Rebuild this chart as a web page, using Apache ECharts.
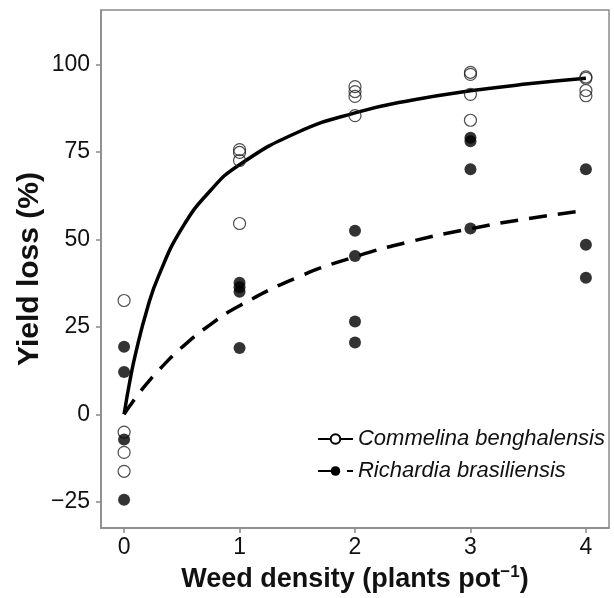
<!DOCTYPE html>
<html><head><meta charset="utf-8">
<script src="https://cdn.jsdelivr.net/npm/echarts@6/dist/echarts.min.js"></script>
<style>html,body{margin:0;padding:0;background:#fff}#c{width:614px;height:598px}</style>
</head><body><div id="c"></div>
<script>
// Observed points: [weed density, yield loss %]
const commelinaPoints = [
  [0, 32.5], [0, -5.1], [0, -10.9], [0, -16.3],
  [1, 75.6], [1, 74.8], [1, 72.5], [1, 54.5],
  [2, 93.6], [2, 92.2], [2, 90.8], [2, 85.3],
  [3, 97.7], [3, 97.1], [3, 91.4], [3, 84.0],
  [4, 96.4], [4, 96.0], [4, 92.5], [4, 91.0]
];
const richardiaPoints = [
  [0, 19.3], [0, 12.1], [0, -7.2], [0, -24.4],
  [1, 37.6], [1, 36.3], [1, 35.0], [1, 18.9],
  [2, 52.4], [2, 45.2], [2, 26.5], [2, 20.5],
  [3, 79.0], [3, 78.0], [3, 70.0], [3, 53.1],
  [4, 70.0], [4, 48.4], [4, 39.0]
];
// Fitted curves
const curveX = [0, 0.05, 0.1, 0.2, 0.3, 0.5, 0.75, 1, 1.5, 2, 2.5, 3, 3.5, 4];
const commelinaCurve = [0, 9.5, 17.4, 30.1, 39.6, 53.1, 64.0, 71.3, 80.5, 86.1, 89.8, 92.4, 94.4, 96.0];
const richardiaCurve = [0, 2.4, 4.7, 8.9, 12.6, 19.1, 25.7, 31.0, 39.1, 45.0, 49.5, 53.0, 55.9, 58.2];
const xTicks = [0, 1, 2, 3, 4];
const yTicks = [-25, 0, 25, 50, 75, 100];
const seriesNames = ['Commelina benghalensis', 'Richardia brasiliensis'];

const zip = (xs, ys) => xs.map((x, i) => [x, ys[i]]);
const fmt = v => (v < 0 ? '\u2212' + Math.abs(v) : String(v));
const chart = echarts.init(document.getElementById('c'), null, {renderer: 'canvas'});
const axisCol = '#8a8a8a';
const txtCol = '#111';
const font = 'Liberation Sans';
chart.setOption({
  animation: false,
  grid: {left: 101, right: 5, top: 10, bottom: 70, outerBoundsMode: 'none', containLabel: false,
         show: true, borderColor: axisCol, borderWidth: 1.5, backgroundColor: 'transparent'},
  xAxis: {
    type: 'value', min: -0.2, max: 4.2,
    name: 'Weed density (plants pot{sup|−1})', nameLocation: 'middle', nameGap: 35,
    nameTextStyle: {fontFamily: font, fontSize: 27, fontWeight: 'bold', color: txtCol,
      rich: {sup: {fontFamily: font, fontSize: 17, fontWeight: 'bold', color: txtCol, verticalAlign: 'top', padding: [0, 0, 15, 0]}}},
    splitLine: {show: false},
    axisLine: {show: true, onZero: false, lineStyle: {color: axisCol, width: 1.5}},
    axisTick: {show: true, length: 5, lineStyle: {color: axisCol, width: 1.5}, customValues: xTicks},
    axisLabel: {customValues: xTicks, formatter: fmt, fontFamily: font, fontSize: 23, color: txtCol, margin: 8}
  },
  yAxis: {
    type: 'value', min: -32.5, max: 115.5,
    name: 'Yield loss (%)', nameLocation: 'middle', nameGap: 56, nameMoveOverlap: false,
    nameTextStyle: {fontFamily: font, fontSize: 30, fontWeight: 'bold', color: txtCol},
    splitLine: {show: false},
    axisLine: {show: true, onZero: false, lineStyle: {color: axisCol, width: 1.5}},
    axisTick: {show: true, length: 5, lineStyle: {color: axisCol, width: 1.5}, customValues: yTicks},
    axisLabel: {customValues: yTicks, formatter: fmt, fontFamily: font, fontSize: 23, color: txtCol, margin: 11}
  },
  legend: {
    data: seriesNames, orient: 'vertical', right: 4, top: 423, itemGap: 10, itemWidth: 35, itemHeight: 12,
    textStyle: {fontFamily: font, fontSize: 22, fontStyle: 'italic', color: txtCol}
  },
  series: [
    {name: seriesNames[0], type: 'line', data: zip(curveX, commelinaCurve), smooth: true, showSymbol: false,
     symbol: 'circle', symbolSize: 10, itemStyle: {color: '#fff', borderColor: '#000', borderWidth: 1.2},
     lineStyle: {color: '#000', width: 3.5}, z: 3},
    {name: seriesNames[1], type: 'line', data: zip(curveX, richardiaCurve), smooth: true, showSymbol: false,
     symbol: 'circle', symbolSize: 10, itemStyle: {color: '#000'},
     lineStyle: {color: '#000', width: 3.5, type: [18, 11]}, z: 3},
    {name: seriesNames[0], type: 'scatter', data: commelinaPoints, symbol: 'circle', symbolSize: 12,
     itemStyle: {color: 'rgba(255,255,255,0)', borderColor: '#222', borderWidth: 1.2}, z: 4},
    {name: seriesNames[1], type: 'scatter', data: richardiaPoints, symbol: 'circle', symbolSize: 12,
     itemStyle: {color: '#000'}, z: 4}
  ]
});
</script></body></html>
